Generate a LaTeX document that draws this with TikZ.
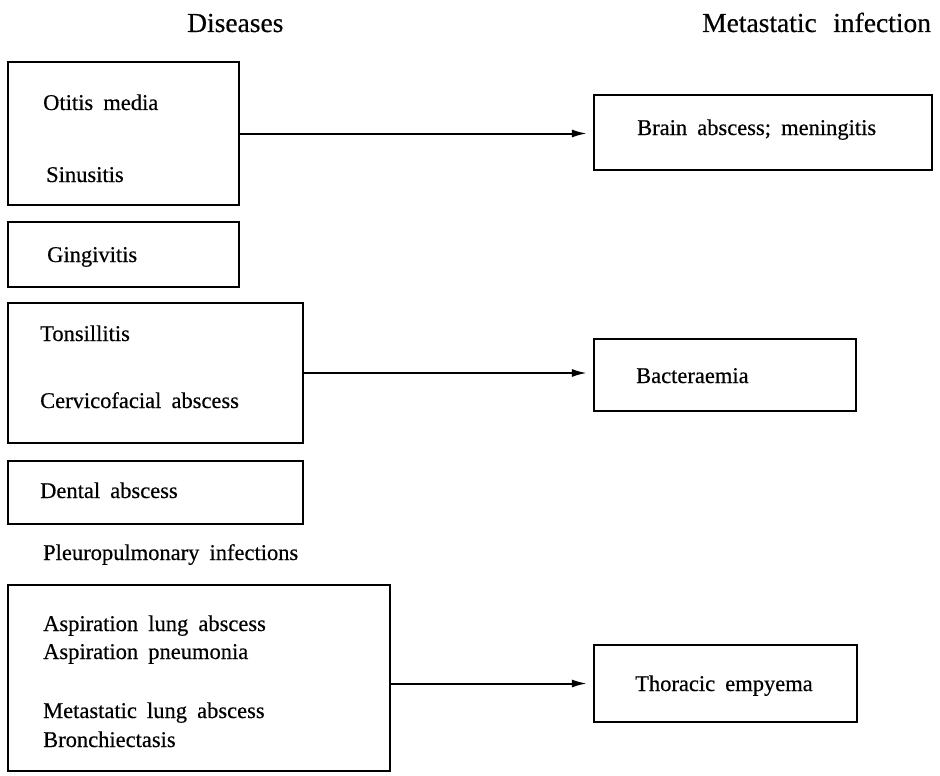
\documentclass[tikz,border=0pt]{standalone}
\usepackage{fontspec}
\setmainfont{Liberation Serif}[FakeBold=0.4]
\usetikzlibrary{arrows.meta}
\newcommand\lblfontx{\fontsize{22.5}{27}\selectfont\spaceskip 0.45em plus 0.1em\relax}
\newcommand\ttlfontx{\fontsize{27.5}{32}\selectfont\spaceskip 0.6em plus 0.1em\relax}
\tikzset{
  box/.style={draw, line width=2.2pt, rectangle, inner sep=0pt, anchor=center},
  lbl/.style={anchor=base west, inner sep=0pt, font=\lblfontx},
  ttl/.style={anchor=base west, inner sep=0pt, font=\ttlfontx},
  conn/.style={line width=2pt, -{Latex[length=15pt,width=8pt]}, shorten >=6pt}
}
\begin{document}
\begin{tikzpicture}[x=1pt,y=-1pt]
\useasboundingbox (0,0) rectangle (940,776);
% titles
\node[ttl] (tD) at (187,32) {Diseases};
\node[ttl] (tM) at (702,32) {Metastatic infection};
% left boxes
\node[box, minimum width=231pt, minimum height=143pt] (b1) at (123.5,133.5) {};
\node[box, minimum width=231pt, minimum height=65pt] (b2) at (123.5,254.5) {};
\node[box, minimum width=295pt, minimum height=140pt] (b3) at (155.5,373) {};
\node[box, minimum width=295pt, minimum height=63pt] (b4) at (155.5,492.5) {};
\node[box, minimum width=382pt, minimum height=186pt] (b5) at (199,678) {};
% right boxes
\node[box, minimum width=338pt, minimum height=75pt] (bA) at (763,132.5) {};
\node[box, minimum width=262pt, minimum height=72pt] (bB) at (725,375) {};
\node[box, minimum width=263pt, minimum height=77pt] (bC) at (725.5,683.5) {};
% texts
\node[lbl] (l1) at (43,110) {Otitis media};
\node[lbl] (l2) at (46,182) {Sinusitis};
\node[lbl] (l3) at (47,262) {Gingivitis};
\node[lbl] (l4) at (40,341) {Tonsillitis};
\node[lbl] (l5) at (40,408) {Cervicofacial abscess};
\node[lbl] (l6) at (40,498) {Dental abscess};
\node[lbl] (l7) at (43,560) {Pleuropulmonary infections};
\node[lbl] (l8) at (43,631) {Aspiration lung abscess};
\node[lbl] (l9) at (43,659) {Aspiration pneumonia};
\node[lbl] (l10) at (43,718) {Metastatic lung abscess};
\node[lbl] (l11) at (43,747) {Bronchiectasis};
\node[lbl] (rA) at (637,135) {Brain abscess; meningitis};
\node[lbl] (rB) at (636,383) {Bacteraemia};
\node[lbl] (rC) at (635,691) {Thoracic empyema};
% connectors
\draw[conn] (b1.east) -- (b1.east -| bA.west);
\draw[conn] (b3.east) -- (b3.east -| bB.west);
\draw[conn] (b5.east |- bC.west) -- (bC.west);
\end{tikzpicture}
\end{document}
